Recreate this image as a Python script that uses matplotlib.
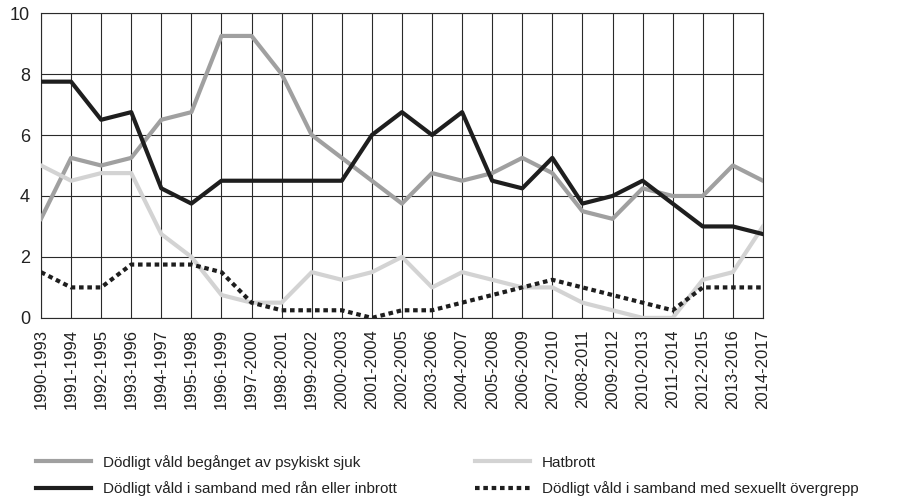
import numpy as np
import matplotlib.pyplot as plt

plt.rcParams['font.family'] = ['Liberation Sans', 'DejaVu Sans']

# perioder
perioder = ["1990-1993", "1991-1994", "1992-1995", "1993-1996", "1994-1997",
            "1995-1998", "1996-1999", "1997-2000", "1998-2001", "1999-2002",
            "2000-2003", "2001-2004", "2002-2005", "2003-2006", "2004-2007",
            "2005-2008", "2006-2009", "2007-2010", "2008-2011", "2009-2012",
            "2010-2013", "2011-2014", "2012-2015", "2013-2016", "2014-2017"]

psykiskt_sjuk = [3.25, 5.25, 5.0, 5.25, 6.5, 6.75, 9.25, 9.25, 8.0, 6.0,
                 5.25, 4.5, 3.75, 4.75, 4.5, 4.75, 5.25, 4.75, 3.5, 3.25,
                 4.25, 4.0, 4.0, 5.0, 4.5]
ran_inbrott = [7.75, 7.75, 6.5, 6.75, 4.25, 3.75, 4.5, 4.5, 4.5, 4.5,
               4.5, 6.0, 6.75, 6.0, 6.75, 4.5, 4.25, 5.25, 3.75, 4.0,
               4.5, 3.75, 3.0, 3.0, 2.75]
hatbrott = [5.0, 4.5, 4.75, 4.75, 2.75, 2.0, 0.75, 0.5, 0.5, 1.5,
            1.25, 1.5, 2.0, 1.0, 1.5, 1.25, 1.0, 1.0, 0.5, 0.25,
            0.0, 0.0, 1.25, 1.5, 3.0]
sexuellt = [1.5, 1.0, 1.0, 1.75, 1.75, 1.75, 1.5, 0.5, 0.25, 0.25,
            0.25, 0.0, 0.25, 0.25, 0.5, 0.75, 1.0, 1.25, 1.0, 0.75,
            0.5, 0.25, 1.0, 1.0, 1.0]

x = np.arange(len(perioder))

fig = plt.figure(figsize=(9.05, 5.03), dpi=100)
ax = fig.add_axes([0.0453, 0.368, 0.7977, 0.606])

l1, = ax.plot(x, psykiskt_sjuk, color='#a0a0a0', lw=3, zorder=3,
              label="Dödligt våld begånget av psykiskt sjuk")
l3, = ax.plot(x, hatbrott, color='#d3d3d3', lw=3, zorder=3,
              label="Hatbrott")
l2, = ax.plot(x, ran_inbrott, color='#1e1e1e', lw=3, zorder=4,
              label="Dödligt våld i samband med rån eller inbrott")
l4, = ax.plot(x, sexuellt, color='#1e1e1e', lw=3, zorder=4,
              linestyle=(0, (1.1, 0.9)),
              label="Dödligt våld i samband med sexuellt övergrepp")

ax.set_xlim(0, len(perioder) - 1)
ax.set_ylim(0, 10)
ax.set_yticks([0, 2, 4, 6, 8, 10])
ax.set_xticks(x)
ax.set_xticklabels(perioder, rotation=90)
ax.grid(True, color='#2a2a2a', lw=0.8, zorder=1)
ax.tick_params(length=0, labelsize=13, colors='#222222')
ax.tick_params(axis='x', pad=8, labelsize=12)
ax.tick_params(axis='y', pad=8)
for s in ax.spines.values():
    s.set_color('#2a2a2a')
    s.set_linewidth(0.8)

fig.legend(handles=[l1, l2, l3, l4], ncol=2, loc='upper left',
           bbox_to_anchor=(0.033, 0.108), frameon=False, fontsize=11,
           handlelength=3.6, handletextpad=0.8, columnspacing=5.1,
           labelspacing=0.75, borderaxespad=0, labelcolor='#222222')

fig.savefig("out.png", dpi=100)
